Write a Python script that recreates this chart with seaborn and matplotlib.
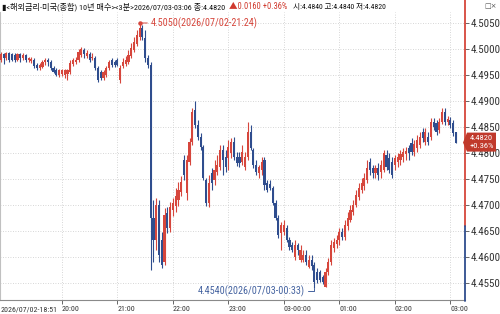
import numpy as np
import pandas as pd
import matplotlib
matplotlib.use("Agg")
import matplotlib.pyplot as plt
import seaborn as sns
from matplotlib import font_manager as fm
from matplotlib.patches import Polygon
from matplotlib.lines import Line2D

# ---------------- data ----------------
start_time = "2026-07-02 18:51"
bar_minutes = 3
price_unit = 1e-4  # values below are in units of 0.0001

open_ = [
    44988, 44979, 44990, 44983, 44992, 44990, 44988, 44979, 44990, 44983,
    44988, 44979, 44977, 44979, 44969, 44963, 44965, 44975, 44979, 44975,
    44963, 44960, 44950, 44952, 44950, 44952, 44956, 44971, 44975, 44979,
    44988, 44998, 44987, 44990, 44983, 44983, 44963, 44956, 44944, 44950,
    44963, 44979, 44975, 44979, 44940, 44967, 44971, 44975, 44987, 44998,
    45010, 45023, 45040, 45021, 44983, 44969, 44675, 44633, 44700, 44633,
    44590, 44685, 44656, 44690, 44698, 44710, 44725, 44787, 44723, 44783,
    44821, 44883, 44854, 44831, 44812, 44748, 44704, 44762, 44748, 44763,
    44773, 44806, 44792, 44790, 44800, 44821, 44792, 44792, 44783, 44773,
    44792, 44840, 44806, 44777, 44762, 44767, 44787, 44742, 44740, 44733,
    44704, 44675, 44646, 44648, 44656, 44633, 44623, 44600, 44623, 44594,
    44594, 44604, 44581, 44594, 44585, 44571, 44571, 44562, 44542, 44571,
    44590, 44617, 44625, 44633, 44648, 44638, 44660, 44671, 44687, 44700,
    44715, 44729, 44737, 44748, 44783, 44771, 44762, 44771, 44763, 44767,
    44796, 44790, 44783, 44777, 44783, 44787, 44792, 44798, 44810, 44819,
    44802, 44810, 44815, 44840, 44821, 44831, 44831, 44860, 44858, 44844,
    44860, 44879, 44860, 44863, 44858, 44840]
high = [
    44992, 44994, 44992, 44994, 44994, 44992, 44992, 44992, 44992, 44992,
    44990, 44985, 44985, 44983, 44973, 44973, 44979, 44983, 44983, 44979,
    44967, 44963, 44962, 44962, 44962, 44962, 44979, 44983, 44985, 45000,
    45004, 45002, 44998, 44994, 44992, 44987, 44967, 44960, 44960, 44967,
    44979, 44983, 44979, 44983, 44969, 44983, 44987, 44998, 45012, 45023,
    45037, 45050, 45046, 45037, 44988, 44975, 44710, 44713, 44710, 44648,
    44694, 44696, 44706, 44713, 44733, 44744, 44756, 44796, 44796, 44829,
    44887, 44900, 44863, 44838, 44815, 44752, 44758, 44771, 44787, 44796,
    44815, 44815, 44806, 44825, 44829, 44831, 44802, 44802, 44815, 44802,
    44860, 44854, 44810, 44787, 44777, 44792, 44792, 44748, 44748, 44737,
    44710, 44681, 44667, 44671, 44662, 44638, 44629, 44633, 44627, 44623,
    44613, 44613, 44604, 44604, 44590, 44579, 44575, 44565, 44579, 44598,
    44633, 44637, 44642, 44656, 44656, 44671, 44687, 44700, 44710, 44729,
    44742, 44752, 44762, 44787, 44790, 44777, 44777, 44781, 44787, 44806,
    44806, 44800, 44792, 44796, 44800, 44806, 44810, 44812, 44815, 44829,
    44825, 44835, 44840, 44848, 44848, 44840, 44867, 44867, 44863, 44867,
    44887, 44887, 44871, 44869, 44863, 44840]
low = [
    44977, 44975, 44971, 44979, 44975, 44977, 44975, 44977, 44975, 44979,
    44975, 44975, 44973, 44963, 44960, 44960, 44963, 44969, 44967, 44960,
    44954, 44948, 44946, 44948, 44944, 44940, 44952, 44967, 44971, 44975,
    44985, 44983, 44983, 44975, 44979, 44960, 44937, 44940, 44940, 44946,
    44960, 44965, 44965, 44967, 44935, 44963, 44967, 44971, 44983, 44994,
    45006, 45017, 45017, 44975, 44963, 44575, 44590, 44613, 44590, 44579,
    44585, 44646, 44648, 44679, 44687, 44698, 44717, 44748, 44710, 44777,
    44815, 44848, 44825, 44806, 44748, 44698, 44696, 44729, 44738, 44758,
    44767, 44758, 44763, 44767, 44790, 44787, 44775, 44773, 44777, 44767,
    44787, 44806, 44771, 44758, 44752, 44758, 44729, 44725, 44729, 44700,
    44671, 44637, 44613, 44642, 44629, 44613, 44610, 44594, 44604, 44590,
    44590, 44585, 44579, 44575, 44540, 44550, 44552, 44548, 44542, 44565,
    44585, 44610, 44617, 44623, 44633, 44633, 44652, 44667, 44681, 44696,
    44710, 44723, 44729, 44742, 44758, 44752, 44752, 44748, 44752, 44763,
    44767, 44762, 44752, 44767, 44773, 44777, 44783, 44787, 44787, 44796,
    44794, 44802, 44810, 44821, 44815, 44815, 44825, 44844, 44835, 44838,
    44856, 44854, 44854, 44848, 44833, 44820]
close = [
    44979, 44990, 44983, 44992, 44979, 44979, 44979, 44990, 44983, 44988,
    44979, 44983, 44981, 44967, 44963, 44969, 44975, 44979, 44975, 44963,
    44956, 44950, 44960, 44960, 44960, 44960, 44973, 44979, 44979, 44994,
    45000, 44990, 44992, 44979, 44985, 44963, 44940, 44944, 44956, 44963,
    44975, 44969, 44969, 44969, 44963, 44975, 44979, 44988, 45002, 45013,
    45027, 45040, 45023, 44983, 44969, 44675, 44633, 44700, 44604, 44585,
    44681, 44656, 44696, 44704, 44717, 44729, 44744, 44758, 44787, 44821,
    44879, 44854, 44831, 44812, 44752, 44704, 44742, 44742, 44767, 44777,
    44806, 44787, 44773, 44812, 44821, 44792, 44781, 44781, 44802, 44792,
    44840, 44810, 44777, 44763, 44773, 44783, 44738, 44729, 44733, 44704,
    44675, 44642, 44662, 44662, 44633, 44619, 44613, 44623, 44613, 44613,
    44604, 44590, 44594, 44583, 44552, 44556, 44556, 44552, 44571, 44590,
    44623, 44629, 44633, 44648, 44638, 44662, 44675, 44690, 44700, 44719,
    44733, 44742, 44752, 44771, 44767, 44762, 44771, 44758, 44777, 44800,
    44773, 44767, 44758, 44790, 44792, 44798, 44802, 44804, 44800, 44802,
    44817, 44825, 44831, 44829, 44840, 44821, 44860, 44850, 44840, 44860,
    44879, 44860, 44865, 44854, 44838, 44820]

prev_close = 4.4660
y_ticks = [4.4550, 4.4600, 4.4650, 4.4700, 4.4750, 4.4800, 4.4850, 4.4900, 4.4950, 4.5000, 4.5050]
first_time_label = "2026/07/02-18:51"
title_main = "▮<해외금리-미국(종합) 10년 매수><3분>2026/07/03-03:06 종:4.4820"
title_change = "▲0.0160 +0.36%"
title_ohl = "시:4.4840 고:4.4840 저:4.4820"
last_box = ["4.4820", "+0.36%"]
high_note = "4.5050(2026/07/02-21:24)"
low_note = "4.4540(2026/07/03-00:33)"

# ---------------- style ----------------
sns.set_theme(style="white")
avail = {f.name for f in fm.fontManager.ttflist}
narrow = next((f for f in ["Liberation Sans Narrow", "DejaVu Sans Condensed",
                           "Roboto Condensed", "Liberation Sans"] if f in avail), "DejaVu Sans")
FAM = [narrow, "Noto Sans CJK KR", "DejaVu Sans"]
plt.rcParams["font.family"] = FAM

RED = "#d6463c"
BLUE = "#2f4d8e"
GRID = "#c9c9c9"
TXT = "#333333"

W, H = 500, 314
fig = plt.figure(figsize=(W / 100, H / 100), dpi=100)
fig.patch.set_facecolor("white")
ax = fig.add_axes([0, 14 / H, 465 / W, 288 / H])
ax.set_facecolor("white")

df = pd.DataFrame({
    "open": np.array(open_) * price_unit,
    "high": np.array(high) * price_unit,
    "low": np.array(low) * price_unit,
    "close": np.array(close) * price_unit,
})
df["time"] = pd.date_range(start_time, periods=len(df), freq=f"{bar_minutes}min")
df["x"] = np.arange(len(df))
df["up"] = df["close"] >= df["open"]
colors = np.where(df["up"], RED, BLUE)

# limits (layout)
px_per_bar = 2.775
x_left = 1.94 / px_per_bar
ax.set_xlim(x_left, x_left + 465 / px_per_bar)
ax.set_ylim(4.5 - 251 / 5200, 4.5 + 37 / 5200)

# grid (hour lines; the first partial hour is covered by the start label)
for yv in y_ticks:
    ax.axhline(yv, color=GRID, lw=0.6, ls=(0, (1, 2)), zorder=0)
hour_idx = [i for i in df.index[df["time"].dt.minute == 0].tolist() if i >= 15]
for xi in hour_idx:
    ax.axvline(xi, color=GRID, lw=0.6, ls=(0, (1, 2)), zorder=0)

# candles
ax.vlines(df["x"], df["low"], df["high"], colors=colors, lw=0.8, zorder=2)
body = (df["close"] - df["open"]).abs().clip(lower=0.00019)
ax.bar(df["x"], body, bottom=df[["open", "close"]].min(axis=1), width=0.78,
       color=colors, linewidth=0, zorder=3)

# spines
for s in ["top", "right"]:
    ax.spines[s].set_visible(False)
ax.spines["left"].set_color("#c0c0c0")
ax.spines["left"].set_linewidth(0.8)
ax.spines["bottom"].set_color("#8a8a8a")
ax.spines["bottom"].set_linewidth(0.8)

fig.canvas.draw()
renderer = fig.canvas.get_renderer()


def fit_size(s, width_px, ref=10, family=None):
    t = fig.text(0, 0, s, fontsize=ref, family=family or FAM)
    w = t.get_window_extent(renderer).width
    t.remove()
    return ref * width_px / w


# y ticks on right
ylab_fs = fit_size("4.5050", 30)
ax.yaxis.tick_right()
ax.set_yticks(y_ticks)
ax.set_yticklabels([f"{v:.4f}" for v in y_ticks])
ax.tick_params(axis="y", which="both", right=True, left=False, direction="out", length=3,
               width=0.7, color="#666666", labelsize=ylab_fs, labelcolor=TXT, pad=1)

# x ticks
xlab_fs = fit_size(first_time_label, 56)
ax.set_xticks(hour_idx)
xlabels = []
for xi in hour_idx:
    t = df.loc[xi, "time"]
    xlabels.append(t.strftime("%d-%H:%M") if t.hour == 0 else t.strftime("%H:%M"))
ax.set_xticklabels(xlabels)
ax.tick_params(axis="x", which="both", bottom=True, direction="out", length=3, width=0.7,
               color="#666666", labelsize=xlab_fs, labelcolor=TXT, pad=1.5)
for lab in ax.get_xticklabels():
    lab.set_horizontalalignment("left")
ax.text(0.002, -6.2 / 288, first_time_label, transform=ax.transAxes, ha="left", va="top",
        fontsize=xlab_fs, color=TXT)

# right axis line: red above previous close, blue below
y_split = ax.transData.transform((x_left, prev_close))[1] / H
x_axis = 465 / W
fig.add_artist(Line2D([x_axis, x_axis], [1.0, y_split], color=RED, lw=1.3, transform=fig.transFigure))
fig.add_artist(Line2D([x_axis, x_axis], [y_split, 1 - 301 / H], color=BLUE, lw=1.3, transform=fig.transFigure))

# last price box
last_close = df["close"].iloc[-1]
yc = ax.transData.transform((x_left, last_close))[1]
bx0, bx1 = 465, 496
box = Polygon([[bx0 - 2, yc], [bx0 + 2, yc + 10], [bx1, yc + 10], [bx1, yc - 9], [bx0 + 2, yc - 9]],
              closed=True, transform=None, facecolor="#c0392b", edgecolor="none", zorder=10)
fig.add_artist(box)
box_fs = fit_size(last_box[0], 23)
fig.text((bx0 + bx1 + 2) / 2 / W, (yc + 4.8) / H, last_box[0], ha="center", va="center",
         fontsize=box_fs, color="white", zorder=11)
fig.text((bx0 + bx1 + 2) / 2 / W, (yc - 3.6) / H, last_box[1], ha="center", va="center",
         fontsize=box_fs, color="white", zorder=11)

# annotations for high / low
note_fs = fit_size(high_note, 106)
ih = int(df["high"].idxmax())
il = int(df["low"].idxmin())
ax.plot([ih], [df.loc[ih, "high"]], marker="o", ms=2.2, color=RED, zorder=5)
ax.annotate(high_note, xy=(ih, df.loc[ih, "high"]), xytext=(11, 0), textcoords="offset pixels",
            ha="left", va="center", fontsize=note_fs, color=RED,
            arrowprops=dict(arrowstyle="-", color=RED, lw=0.7, shrinkA=0, shrinkB=0))
ax.annotate(low_note, xy=(il, df.loc[il, "low"]), xytext=(-10, -3), textcoords="offset pixels",
            ha="right", va="center", fontsize=note_fs, color="#4563a0",
            arrowprops=dict(arrowstyle="-", color="#4563a0", lw=0.7, shrinkA=0, shrinkB=0,
                            connectionstyle="angle,angleA=0,angleB=90,rad=0"))

# title line
ty = 1 - 6.5 / H
fs1 = fit_size(title_main, 224)
fig.text(2 / W, ty, title_main, ha="left", va="center", fontsize=fs1, color="#111111")
fig.text(229 / W, ty, title_change, ha="left", va="center", fontsize=fit_size(title_change, 58), color="#d03a2e")
fig.text(293 / W, ty, title_ohl, ha="left", va="center", fontsize=fit_size(title_ohl, 93), color="#111111")
fig.text(497 / W, ty, "□×", ha="right", va="center", fontsize=5, color="#555555", family="DejaVu Sans")

fig.savefig("out.png", dpi=100, facecolor="white")
